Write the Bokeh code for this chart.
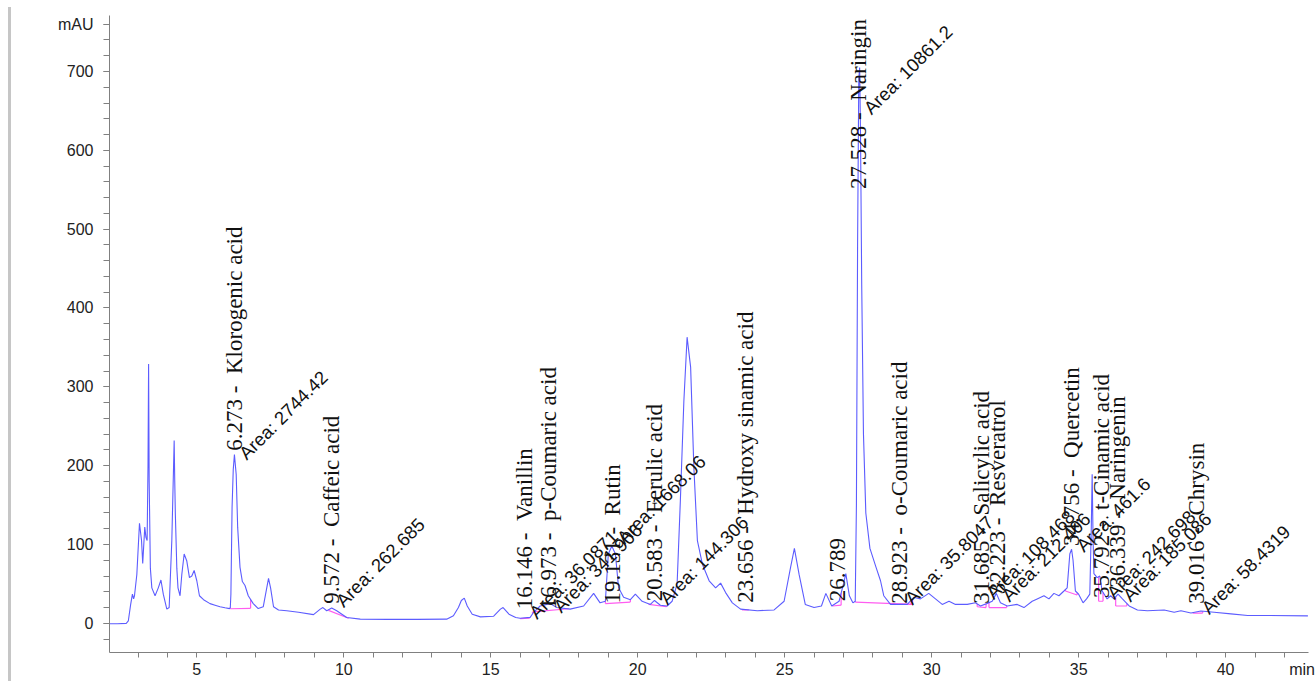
import numpy as np
from math import pi
from bokeh.plotting import figure
from bokeh.models import ColumnDataSource, FixedTicker, LabelSet, Range1d, Div
from bokeh.layouts import row
from bokeh.core.properties import value
from bokeh.embed import file_html
from bokeh.resources import INLINE

# ---- chromatogram trace (time in min, signal in mAU) ----
time_min = [2.03, 2.3, 2.6, 2.67, 2.75, 2.81, 2.85, 2.88, 2.96, 3.05, 3.12, 3.16, 3.23, 3.27, 3.31, 3.34, 3.36,
             3.38, 3.42, 3.47, 3.58, 3.69, 3.78, 3.86, 3.98, 4.06, 4.15, 4.21, 4.23, 4.25, 4.27, 4.32, 4.36, 4.43,
             4.49, 4.57, 4.66, 4.75, 4.83, 4.91, 5.0, 5.09, 5.23, 5.45, 5.62, 5.79, 5.96, 6.11, 6.14, 6.16, 6.20,
             6.24, 6.28, 6.34, 6.39, 6.47, 6.55, 6.64, 6.75, 6.92, 7.09, 7.26, 7.38, 7.44, 7.51, 7.61, 7.78, 8.06,
             8.46, 8.97, 9.2, 9.29, 9.42, 9.59, 9.76, 10.1, 10.56, 11.5, 12.5, 13.5, 13.73, 13.9, 14.0, 14.1, 14.2,
             14.37, 14.65, 15.1, 15.33, 15.42, 15.62, 15.85, 16.0, 16.34, 16.46, 16.68, 17.02, 17.25, 17.7, 18.16,
             18.5, 18.72, 18.9, 19.0, 19.12, 19.24, 19.35, 19.52, 19.75, 19.92, 20.15, 20.43, 20.57, 20.77, 21.0,
             21.17, 21.34, 21.45, 21.57, 21.68, 21.8, 21.91, 22.03, 22.2, 22.43, 22.65, 22.82, 22.99, 23.22, 23.5,
             24.07, 24.64, 24.98, 25.2, 25.33, 25.49, 25.7, 26.0, 26.25, 26.4, 26.6, 26.85, 27.0, 27.08, 27.2,
             27.32, 27.4, 27.44, 27.48, 27.52, 27.55, 27.58, 27.62, 27.68, 27.76, 27.9, 28.1, 28.26, 28.37, 28.6,
             29.17, 29.39, 29.62, 29.9, 30.13, 30.36, 30.59, 30.81, 31.21, 31.49, 31.66, 31.87, 32.06, 32.2, 32.34,
             32.57, 32.91, 33.14, 33.42, 33.59, 33.82, 33.99, 34.16, 34.33, 34.5, 34.61, 34.7, 34.76, 34.81, 34.89,
             35.0, 35.15, 35.27, 35.38, 35.43, 35.46, 35.49, 35.52, 35.63, 35.72, 35.8, 35.97, 36.09, 36.2, 36.34,
             36.49, 36.72, 37.0, 37.34, 37.91, 38.25, 38.48, 38.82, 39.16, 39.61, 40.18, 40.75, 41.32, 42.8]
signal_mau = [-0.5, -0.5, 0, 3, 24, 37, 31, 35, 62, 127, 105, 76, 122, 109, 105, 200, 329,
              180, 70, 45, 35, 45, 55, 37, 18, 20, 105, 200, 232, 180, 139, 70, 45, 35,
              62, 88, 79, 58, 60, 67, 54, 35, 30, 25, 23, 21, 19.7, 18.7, 20, 37, 147,
              195, 214, 189, 122, 71, 53, 48, 35, 25, 18.7, 21, 45, 57, 45, 21, 17, 16,
              14, 11, 18, 20, 16, 19.5, 16, 7.4, 5.3, 5, 5, 5.3, 9.7, 20, 29, 32, 22,
              11.6, 8.2, 9, 18, 20, 11.6, 7.4, 6.5, 7.6, 14, 22, 25, 20, 18, 22,
              38, 26, 28, 88, 98, 88, 45, 33, 30, 37, 28, 24, 29, 23, 22,
              28, 50, 155, 282, 363, 325, 198, 105, 75, 54, 45, 51, 39, 26, 18,
              16, 17, 28, 71, 95, 62, 24, 20, 22, 38, 22, 28, 50, 63, 35,
              26, 28, 150, 480, 690, 705, 620, 430, 240, 140, 95, 72, 54, 35, 24,
              24, 33, 31, 38, 31, 24, 28, 24, 24, 26, 22, 25, 28, 38, 26,
              22, 24, 20, 28, 31, 35, 31, 38, 35, 41, 45, 88, 94, 80, 41,
              37, 26, 31, 37, 120, 189, 110, 63, 58, 60, 41, 31, 35, 31, 37,
              31, 22, 17, 16, 17, 14, 16, 13, 15.6, 14, 12, 10, 10, 9.5]

# ---- integration baselines (start, end in min; level at start/end in mAU) ----
base_start = [6.14, 9.48, 16.0, 16.42, 18.9, 20.38, 23.55, 26.62, 27.40, 28.9, 31.55, 31.95, 34.55, 35.68, 36.26, 38.88]
base_end = [6.83, 10.16, 16.32, 17.65, 19.75, 20.98, 23.78, 26.92, 29.35, 29.3, 31.85, 32.55, 34.95, 35.83, 36.64, 39.22]
base_y0 = [18.5, 16.5, 6.0, 14.5, 25.0, 24.0, 17.0, 22.0, 27.0, 24.0, 21.0, 20.0, 41.0, 28.0, 22.0, 13.0]
base_y1 = [19.0, 6.5, 6.5, 18.5, 27.0, 21.0, 17.0, 23.0, 24.0, 24.0, 20.0, 20.0, 36.0, 28.0, 22.0, 13.0]

# ---- peak annotations ----
peak_rt = [6.273, 9.572, 16.146, 16.973, 19.131, 20.583, 23.656, 26.789, 27.528, 28.923, 31.685, 32.223,
           34.756, 35.792, 36.339, 39.016]
peak_name = ["Klorogenic acid", "Caffeic acid", "Vanillin", "p-Coumaric acid", "Rutin", "Ferulic acid",
             "Hydroxy sinamic acid", "", "Naringin", "o-Coumaric acid", "Salicylic acid", "Resveratrol",
             "Quercetin", "t-Cinamic acid", "Naringenin", "Chrysin"]
peak_area = ["2744.42", "262.685", "36.0871", "341.906", "1668.06", "144.306", "", "", "10861.2", "35.8047",
             "108.468", "212.406", "461.6", "242.698", "185.086", "58.4319"]
name_label_mau = [219, 25, 18, 18, 25, 28, 26, 28, 551, 25, 25, 37, 98, 32, 45, 25]
area_label_mau = [212, 25, 10, 18, 105, 28, 0, 0, 650, 28, 35, 32, 95, 35, 32, 16]

# ---- axes ----
x_major = [5, 10, 15, 20, 25, 30, 35, 40]
x_unit_pos = 42.6
x_unit_label = {x_unit_pos: "min"}
x_minor = list(range(3, 43))
y_major = [0, 100, 200, 300, 400, 500, 600, 700, 760]
y_minor = list(range(-20, 771, 20))
y_unit_label = {760: "mAU"}

BLUE = "#5c5cff"
PINK = "#ff5cf0"

p = figure(width=1304, height=681, x_range=Range1d(2.03, 42.82), y_range=Range1d(-37, 771),
           output_backend="svg", toolbar_location=None,
           min_border_left=98, min_border_right=7, min_border_top=15, min_border_bottom=29)
p.outline_line_color = None
p.xgrid.visible = False
p.ygrid.visible = False
p.background_fill_color = "white"
p.border_fill_color = "white"

# integration baselines + drop lines
t_arr = np.array(time_min)
s_arr = np.array(signal_mau)
p.segment(x0=base_start, y0=base_y0, x1=base_end, y1=base_y1, line_color=PINK, line_width=1.2)
end_trace = np.interp(base_end, t_arr, s_arr)
start_trace = np.interp(base_start, t_arr, s_arr)
p.segment(x0=base_end, y0=base_y1, x1=base_end, y1=end_trace, line_color=PINK, line_width=1.2)
p.segment(x0=base_start, y0=base_y0, x1=base_start, y1=start_trace, line_color=PINK, line_width=1.2)

# trace
p.line(time_min, signal_mau, line_color=BLUE, line_width=1.1)

# rt / name labels
NB = "\u00a0"
name_txt = []
for rt, nm in zip(peak_rt, peak_name):
    name_txt.append(f"{rt:.3f} -{NB}{NB}{nm}" if nm else f"{rt:.3f}")
src_names = ColumnDataSource(dict(x=peak_rt, y=name_label_mau, text=name_txt))
p.add_layout(LabelSet(x="x", y="y", text="text", source=src_names, angle=pi / 2,
                      text_align="left", text_baseline="middle",
                      text_font=value("Liberation Serif"), text_font_size="23px", text_color="#111111"))

ax, ay, at = [], [], []
for rt, ar, h in zip(peak_rt, peak_area, area_label_mau):
    if ar:
        ax.append(rt)
        ay.append(h)
        at.append(f"Area: {ar}")
src_area = ColumnDataSource(dict(x=ax, y=ay, text=at))
p.add_layout(LabelSet(x="x", y="y", text="text", source=src_area, angle=pi / 4, x_offset=8,
                      text_align="left", text_baseline="middle",
                      text_font=value("Liberation Sans"), text_font_size="18.5px", text_color="#111111"))

# axes styling
p.yaxis.ticker = FixedTicker(ticks=y_major, minor_ticks=y_minor)
p.yaxis.major_label_overrides = y_unit_label
p.xaxis.ticker = FixedTicker(ticks=x_major + [x_unit_pos], minor_ticks=x_minor)
p.xaxis.major_label_overrides = x_unit_label
for ax_ in (p.xaxis, p.yaxis):
    ax_.axis_line_color = "#808080"
    ax_.major_tick_line_color = "#808080"
    ax_.minor_tick_line_color = "#808080"
    ax_.major_tick_in = 0
    ax_.minor_tick_in = 0
    ax_.major_label_text_font = "Liberation Sans"
    ax_.major_label_text_font_size = "16px"
    ax_.major_label_text_color = "#222222"
    ax_.axis_label_standoff = 0
p.yaxis.major_tick_out = 6
p.yaxis.minor_tick_out = 6
p.yaxis.major_label_standoff = 10
# every visible x tick mark comes from the 1-min minor ticks
p.xaxis.major_tick_out = 0
p.xaxis.minor_tick_out = 5
p.xaxis.major_label_standoff = 3

frame_line = Div(text="", width=3, height=674, margin=(7, 0, 0, 8), styles={"background-color": "#c6c6c6"})
layout = row(frame_line, p, spacing=0)

open("out.html", "w").write(file_html(layout, INLINE))
